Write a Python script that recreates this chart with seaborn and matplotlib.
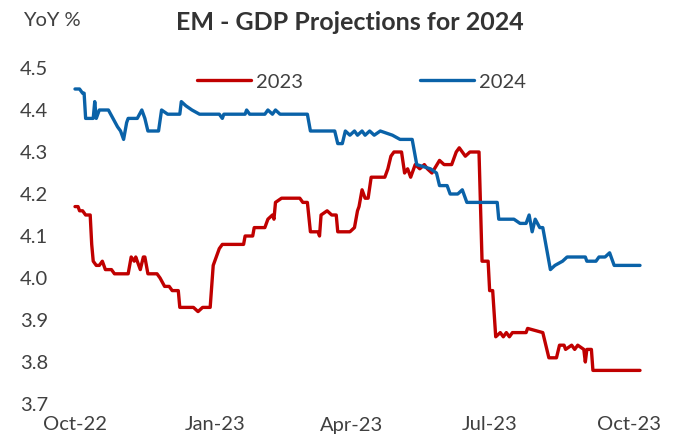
import matplotlib
matplotlib.use("Agg")
import matplotlib.pyplot as plt
import numpy as np
import pandas as pd
import seaborn as sns

# Consensus GDP projections for EM (YoY %), by survey date
dates_2024 = [
    "2022-10-01", "2022-10-04", "2022-10-06", "2022-10-07", "2022-10-08", "2022-10-13",
    "2022-10-14", "2022-10-15", "2022-10-17", "2022-10-23", "2022-10-26", "2022-10-29",
    "2022-10-31", "2022-11-02", "2022-11-04", "2022-11-05", "2022-11-11", "2022-11-14",
    "2022-11-16", "2022-11-18", "2022-11-25", "2022-11-27", "2022-12-01", "2022-12-09",
    "2022-12-10", "2022-12-13", "2022-12-17", "2022-12-22", "2023-01-04", "2023-01-06",
    "2023-01-07", "2023-01-21", "2023-01-22", "2023-01-24", "2023-02-03", "2023-02-05",
    "2023-02-08", "2023-02-10", "2023-02-13", "2023-03-03", "2023-03-05", "2023-03-21",
    "2023-03-23", "2023-03-26", "2023-03-28", "2023-03-31", "2023-04-03", "2023-04-05",
    "2023-04-08", "2023-04-10", "2023-04-13", "2023-04-16", "2023-04-20", "2023-04-28",
    "2023-05-03", "2023-05-11", "2023-05-14", "2023-05-23", "2023-05-27", "2023-05-29",
    "2023-06-03", "2023-06-05", "2023-06-10", "2023-06-13", "2023-06-16", "2023-07-06",
    "2023-07-07", "2023-07-17", "2023-07-21", "2023-07-25", "2023-07-27", "2023-07-29",
    "2023-07-31", "2023-08-03", "2023-08-05", "2023-08-10", "2023-08-13", "2023-08-18",
    "2023-08-21", "2023-09-02", "2023-09-03", "2023-09-09", "2023-09-11", "2023-09-15",
    "2023-09-18", "2023-09-21", "2023-10-08",
]
values_2024 = [
    4.45, 4.45, 4.44, 4.44, 4.38, 4.38,
    4.42, 4.38, 4.40, 4.40, 4.38, 4.36,
    4.35, 4.33, 4.37, 4.38, 4.38, 4.40,
    4.38, 4.35, 4.35, 4.40, 4.39, 4.39,
    4.42, 4.41, 4.40, 4.39, 4.39, 4.38,
    4.39, 4.39, 4.40, 4.39, 4.39, 4.40,
    4.39, 4.40, 4.39, 4.39, 4.35, 4.35,
    4.32, 4.32, 4.35, 4.34, 4.35, 4.34,
    4.35, 4.34, 4.35, 4.34, 4.35, 4.34,
    4.33, 4.33, 4.27, 4.26, 4.25, 4.22,
    4.22, 4.20, 4.20, 4.21, 4.18, 4.18,
    4.14, 4.14, 4.13, 4.13, 4.15, 4.11,
    4.14, 4.12, 4.12, 4.02, 4.03, 4.04,
    4.05, 4.05, 4.04, 4.04, 4.05, 4.05,
    4.06, 4.03, 4.03,
]

dates_2023 = [
    "2022-10-01", "2022-10-03", "2022-10-04", "2022-10-06", "2022-10-08", "2022-10-11",
    "2022-10-12", "2022-10-13", "2022-10-15", "2022-10-17", "2022-10-19", "2022-10-21",
    "2022-10-25", "2022-10-27", "2022-11-05", "2022-11-07", "2022-11-09", "2022-11-10",
    "2022-11-13", "2022-11-15", "2022-11-16", "2022-11-18", "2022-11-24", "2022-11-26",
    "2022-11-29", "2022-12-02", "2022-12-04", "2022-12-08", "2022-12-09", "2022-12-18",
    "2022-12-21", "2022-12-24", "2022-12-29", "2022-12-31", "2023-01-02", "2023-01-04",
    "2023-01-06", "2023-01-20", "2023-01-21", "2023-01-26", "2023-01-27", "2023-02-03",
    "2023-02-05", "2023-02-08", "2023-02-09", "2023-02-10", "2023-02-14", "2023-02-26",
    "2023-02-28", "2023-03-03", "2023-03-05", "2023-03-10", "2023-03-11", "2023-03-12",
    "2023-03-16", "2023-03-19", "2023-03-22", "2023-03-23", "2023-03-31", "2023-04-03",
    "2023-04-05", "2023-04-06", "2023-04-08", "2023-04-10", "2023-04-12", "2023-04-14",
    "2023-04-23", "2023-04-25", "2023-04-27", "2023-04-29", "2023-05-04", "2023-05-06",
    "2023-05-08", "2023-05-10", "2023-05-13", "2023-05-16", "2023-05-19", "2023-05-21",
    "2023-05-24", "2023-05-29", "2023-06-01", "2023-06-06", "2023-06-09", "2023-06-11",
    "2023-06-13", "2023-06-15", "2023-06-18", "2023-06-24", "2023-06-26", "2023-06-30",
    "2023-07-01", "2023-07-03", "2023-07-05", "2023-07-08", "2023-07-10", "2023-07-12",
    "2023-07-14", "2023-07-16", "2023-07-25", "2023-07-26", "2023-08-05", "2023-08-09",
    "2023-08-14", "2023-08-16", "2023-08-19", "2023-08-20", "2023-08-24", "2023-08-26",
    "2023-08-28", "2023-09-01", "2023-09-02", "2023-09-03", "2023-09-06", "2023-09-07",
    "2023-10-08",
]
values_2023 = [
    4.17, 4.17, 4.16, 4.16, 4.15, 4.15,
    4.08, 4.04, 4.03, 4.03, 4.04, 4.02,
    4.02, 4.01, 4.01, 4.05, 4.04, 4.05,
    4.02, 4.05, 4.05, 4.01, 4.01, 4.00,
    3.98, 3.98, 3.97, 3.97, 3.93, 3.93,
    3.92, 3.93, 3.93, 4.03, 4.05, 4.07,
    4.08, 4.08, 4.10, 4.10, 4.12, 4.12,
    4.14, 4.15, 4.14, 4.18, 4.19, 4.19,
    4.18, 4.18, 4.11, 4.11, 4.10, 4.15,
    4.16, 4.15, 4.15, 4.11, 4.11, 4.12,
    4.16, 4.17, 4.21, 4.19, 4.19, 4.24,
    4.24, 4.26, 4.29, 4.30, 4.30, 4.25,
    4.26, 4.24, 4.27, 4.26, 4.27, 4.26,
    4.25, 4.28, 4.27, 4.27, 4.30, 4.31,
    4.30, 4.29, 4.30, 4.30, 4.04, 4.04,
    3.97, 3.97, 3.86, 3.87, 3.86, 3.87,
    3.86, 3.87, 3.87, 3.88, 3.87, 3.81,
    3.81, 3.84, 3.84, 3.83, 3.84, 3.83,
    3.84, 3.83, 3.80, 3.83, 3.83, 3.78,
    3.78,
]

series_names = ["2023", "2024"]
series_colors = ["#C00000", "#0A62A8"]
y_ticks = [3.7, 3.8, 3.9, 4.0, 4.1, 4.2, 4.3, 4.4, 4.5]
x_tick_dates = ["2022-10-01", "2023-01-01", "2023-04-01", "2023-07-01", "2023-10-01"]
x_tick_labels = ["Oct-22", "Jan-23", "Apr-23", "Jul-23", "Oct-23"]

df = pd.concat([
    pd.DataFrame({"date": pd.to_datetime(dates_2023), "value": values_2023, "series": "2023"}),
    pd.DataFrame({"date": pd.to_datetime(dates_2024), "value": values_2024, "series": "2024"}),
], ignore_index=True)

sns.set_style("white")
plt.rcParams["font.family"] = ["Lato", "DejaVu Sans"]
text_color = "#404040"
fs = 14.5

W, H = 691, 442
fig = plt.figure(figsize=(W / 100, H / 100), dpi=100)
# plot area in pixels: x 75..640, y 68..404 (from top)
ax = fig.add_axes([75 / W, (H - 404) / H, (640 - 75) / W, (404 - 68) / H])

sns.lineplot(data=df, x="date", y="value", hue="series", hue_order=series_names,
             palette=series_colors, linewidth=2.4, legend=False, ax=ax, sort=False)
for line in ax.get_lines():
    line.set_clip_on(False)
    line.set_solid_capstyle("round")
    line.set_solid_joinstyle("round")

ax.set_xlim(pd.Timestamp("2022-10-01"), pd.Timestamp("2023-10-08"))
ax.set_ylim(3.7, 4.5)
ax.set_yticks(y_ticks)
ax.set_yticklabels([f"{v:.1f}" for v in y_ticks])
ax.set_xticks(pd.to_datetime(x_tick_dates))
ax.set_xticklabels(x_tick_labels)
ax.tick_params(axis="both", length=0, labelsize=fs, colors=text_color)
ax.tick_params(axis="y", pad=19.5)
ax.tick_params(axis="x", pad=9)
ax.set_xlabel("")
ax.set_ylabel("")
sns.despine(ax=ax, left=True, bottom=True)
ax.grid(False)

fig.text(350 / W, 1 - 22 / H, "EM - GDP Projections for 2024", ha="center", va="center",
         fontsize=18, fontweight="bold", color="#333333")
fig.text(23 / W, 1 - 21 / H, "YoY %", ha="left", va="center", fontsize=fs, color=text_color)

handles = ax.get_lines()[:2]
px = fs * 100 / 72
leg = fig.legend(handles, series_names, loc="center left",
                 bbox_to_anchor=(197 / W, 1 - 82 / H), ncol=2, frameon=False,
                 fontsize=fs, handlelength=54 / px, handletextpad=5 / px,
                 columnspacing=117 / px, borderpad=0, borderaxespad=0)
for t in leg.get_texts():
    t.set_color(text_color)
for lh in leg.get_lines():
    lh.set_linewidth(2.4)

fig.savefig("out.png", dpi=100)
